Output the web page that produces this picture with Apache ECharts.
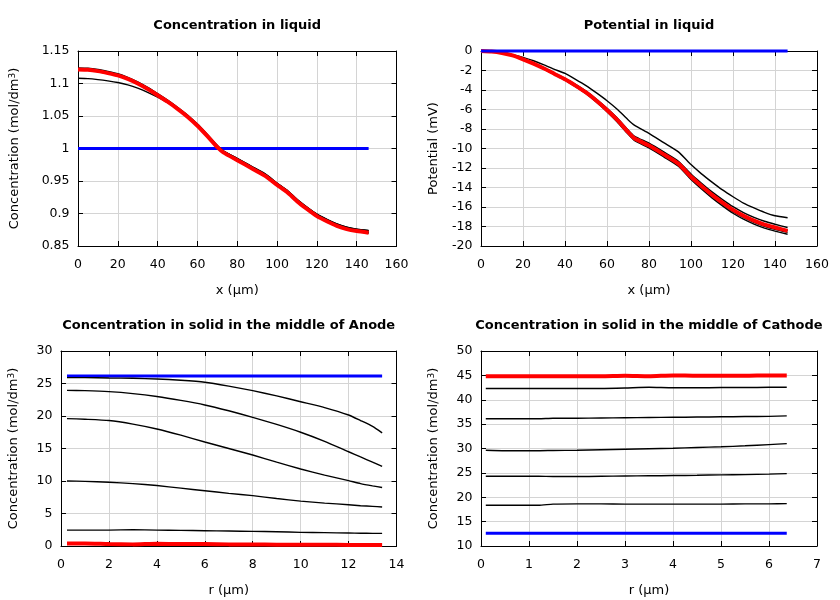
<!DOCTYPE html>
<html>
<head>
<meta charset="utf-8">
<script src="https://cdn.jsdelivr.net/npm/echarts@6/dist/echarts.min.js"></script>
<style>html,body{margin:0;padding:0;background:#fff}#c{width:840px;height:600px}</style>
</head>
<body>
<div id="c"></div>
<script>
// ---------- Liquid (x in µm) ----------
const liqX = [0,5,10,15,20,25,30,35,40,45,50,55,60,65,70,73,80,87,94,100,105,110,115,120,125,130,135,140,146];
const blueLiqX = [0, 146];
const concBlue = [1.0, 1.0];
const concT1 = [1.108,1.1075,1.106,1.104,1.1015,1.098,1.093,1.0865,1.079,1.0705,1.061,1.0495,1.036,1.0205,1.004,0.996,0.985,0.973,0.961,0.947,0.936,0.922,0.910,0.899,0.891,0.884,0.879,0.876,0.874];
const concT2 = [1.124,1.1235,1.1215,1.1185,1.115,1.1095,1.1025,1.094,1.0845,1.0745,1.0635,1.0515,1.0375,1.0215,1.0045,0.9965,0.9845,0.9725,0.9605,0.9465,0.9355,0.9215,0.9095,0.899,0.891,0.884,0.879,0.876,0.8735];
const concT3 = [1.1227,1.1222,1.1202,1.1172,1.1137,1.1082,1.1012,1.0927,1.0832,1.0732,1.0622,1.0502,1.0362,1.0202,1.0032,0.9952,0.9832,0.9712,0.9592,0.9452,0.9342,0.9202,0.9082,0.8972,0.8892,0.8822,0.8772,0.8742,0.8717];
const concT4 = [1.1218,1.1213,1.1193,1.1163,1.1128,1.1073,1.1003,1.0918,1.0823,1.0723,1.0613,1.0493,1.0353,1.0193,1.0023,0.9943,0.9823,0.9703,0.9583,0.9443,0.9333,0.9193,0.9073,0.8963,0.8883,0.8813,0.8763,0.8733,0.8708];
const concT5 = [1.1207,1.1202,1.1182,1.1152,1.1117,1.1062,1.0992,1.0907,1.0812,1.0712,1.0602,1.0482,1.0342,1.0182,1.0012,0.9932,0.9812,0.9692,0.9572,0.9432,0.9322,0.9182,0.9062,0.8952,0.8872,0.8802,0.8752,0.8722,0.8697];
const concRed = [1.1215,1.121,1.119,1.116,1.1125,1.107,1.1,1.0915,1.082,1.072,1.061,1.049,1.035,1.019,1.002,0.994,0.982,0.970,0.958,0.944,0.933,0.919,0.907,0.896,0.888,0.881,0.876,0.873,0.8705];

const potBlue = [0, 0];
const potT1 = [0,-0.03,-0.15,-0.37,-0.65,-1.0,-1.42,-1.88,-2.3,-2.9,-3.55,-4.3,-5.1,-6.0,-7.05,-7.6,-8.45,-9.4,-10.35,-11.65,-12.6,-13.45,-14.25,-14.95,-15.6,-16.1,-16.55,-16.9,-17.1];
const potT2 = [0,-0.05,-0.19,-0.44,-0.8,-1.25,-1.74,-2.27,-2.8,-3.43,-4.12,-4.95,-5.88,-6.9,-8.08,-8.72,-9.46,-10.35,-11.3,-12.62,-13.56,-14.45,-15.24,-15.97,-16.57,-17.06,-17.46,-17.77,-18.1];
const potT3 = [0,-0.05,-0.2,-0.46,-0.86,-1.32,-1.83,-2.38,-2.94,-3.6,-4.31,-5.17,-6.13,-7.2,-8.41,-9.06,-9.82,-10.73,-11.68,-13.04,-14.0,-14.9,-15.71,-16.47,-17.07,-17.57,-17.98,-18.29,-18.6];
const potT4 = [0,-0.05,-0.21,-0.47,-0.88,-1.34,-1.86,-2.42,-2.99,-3.66,-4.38,-5.25,-6.22,-7.3,-8.52,-9.18,-9.94,-10.86,-11.82,-13.18,-14.15,-15.06,-15.88,-16.64,-17.25,-17.75,-18.16,-18.47,-18.8];
const potT5 = [0,-0.05,-0.2,-0.45,-0.84,-1.29,-1.79,-2.33,-2.88,-3.53,-4.23,-5.08,-6.03,-7.08,-8.28,-8.93,-9.68,-10.58,-11.53,-12.88,-13.83,-14.73,-15.53,-16.28,-16.88,-17.38,-17.78,-18.08,-18.42];
const potRed = [0,-0.05,-0.2,-0.45,-0.85,-1.3,-1.8,-2.35,-2.9,-3.55,-4.25,-5.1,-6.05,-7.1,-8.3,-8.95,-9.7,-10.6,-11.55,-12.9,-13.85,-14.75,-15.55,-16.3,-16.9,-17.4,-17.8,-18.1,-18.45];

// ---------- Anode solid (r in µm) ----------
const anR = [0.25,1,2,3,4,5,6,7,8,9,10,11,12,12.5,13,13.4];
const anBlueR = [0.25, 13.4];
const anBlue = [26.15, 26.15];
const anT1 = [25.9,25.9,25.85,25.8,25.7,25.5,25.2,24.6,23.9,23.1,22.2,21.3,20.15,19.3,18.4,17.4];
const anT2 = [23.95,23.9,23.75,23.45,23.0,22.4,21.7,20.8,19.8,18.7,17.5,16.1,14.5,13.7,12.9,12.25];
const anT3 = [19.6,19.5,19.3,18.75,18.0,17.05,16.0,15.0,14.0,12.9,11.85,10.9,10.05,9.6,9.25,9.0];
const anT4 = [10.0,9.95,9.8,9.6,9.3,8.9,8.5,8.1,7.75,7.3,6.9,6.6,6.35,6.2,6.1,6.0];
const anT5 = [2.45,2.45,2.45,2.5,2.45,2.4,2.35,2.3,2.25,2.2,2.1,2.05,2.0,1.97,1.95,1.95];
const anRed = [0.4,0.4,0.3,0.25,0.35,0.3,0.3,0.25,0.25,0.2,0.2,0.2,0.15,0.15,0.15,0.15];

// ---------- Cathode solid (r in µm) ----------
const caR = [0.1,0.5,1,1.2,1.5,2,2.5,3,3.5,4,4.5,5,5.5,6,6.37];
const caBlueR = [0.1, 6.37];
const caBlue = [12.6, 12.6];
const caT1 = [18.35,18.35,18.35,18.35,18.6,18.65,18.65,18.6,18.6,18.6,18.6,18.6,18.65,18.65,18.7];
const caT2 = [24.3,24.3,24.3,24.3,24.25,24.25,24.3,24.35,24.4,24.45,24.5,24.6,24.65,24.75,24.85];
const caT3 = [29.65,29.55,29.55,29.55,29.6,29.65,29.75,29.85,29.95,30.05,30.2,30.35,30.55,30.8,31.0];
const caT4 = [36.1,36.1,36.1,36.1,36.2,36.2,36.25,36.3,36.35,36.4,36.45,36.5,36.55,36.6,36.7];
const caT5 = [42.3,42.3,42.3,42.3,42.3,42.3,42.3,42.4,42.55,42.45,42.45,42.5,42.5,42.55,42.55];
const caRed = [44.8,44.8,44.8,44.8,44.8,44.8,44.8,44.9,44.8,45.0,44.9,44.9,44.9,45.0,45.0];

// ---------- Texts ----------
const titles = ['Concentration in liquid','Potential in liquid','Concentration in solid in the middle of Anode','Concentration in solid in the middle of Cathode'];
const xNames = ['x (µm)','x (µm)','r (µm)','r (µm)'];
const yNames = ['Concentration (mol/dm{s|3})','Potential (mV)','Concentration (mol/dm{s|3})','Concentration (mol/dm{s|3})'];

const FONT = 'DejaVu Sans';
const grids = [
  {left:78, top:51, width:318.5, height:195},
  {left:481, top:51, width:336, height:195},
  {left:61, top:351, width:335.5, height:195},
  {left:481, top:351, width:336, height:195}
];
const xr = [[0,160,20],[0,160,20],[0,14,2],[0,7,1]];
const yr = [[0.85,1.15,0.05],[-20,0,2],[0,30,5],[10,50,5]];
const yGap = [57,41,41,41];

const xAxis = [], yAxis = [];
grids.forEach((g,i)=>{
  const base = {
    gridIndex:i, type:'value',
    axisLine:{show:true,onZero:false,lineStyle:{color:'#000',width:1}},
    axisTick:{show:true,inside:true,length:5,lineStyle:{color:'#000',width:1}},
  };
  xAxis.push(Object.assign({}, base, {
    position:'bottom', min:xr[i][0], max:xr[i][1], interval:xr[i][2],
    name:xNames[i], nameLocation:'middle', nameGap:38,
    nameTextStyle:{fontFamily:FONT,fontSize:13,color:'#000'},
    axisLabel:{fontFamily:FONT,fontSize:12.5,color:'#000',margin:12},
    splitLine:{show:true,lineStyle:{color:'#d4d4d4',width:1}}
  }));
  xAxis.push(Object.assign({}, base, {
    position:'top', min:xr[i][0], max:xr[i][1], interval:xr[i][2],
    axisLabel:{show:false}, splitLine:{show:false}
  }));
  yAxis.push(Object.assign({}, base, {
    position:'left', min:yr[i][0], max:yr[i][1], interval:yr[i][2],
    name:yNames[i], nameLocation:'middle', nameGap:yGap[i],
    nameTextStyle:{fontFamily:FONT,fontSize:13,color:'#000',
      rich:{s:{fontFamily:FONT,fontSize:9,color:'#000',verticalAlign:'top',lineHeight:9}}},
    axisLabel:{fontFamily:FONT,fontSize:12.5,color:'#000',margin:8.5},
    splitLine:{show:true,lineStyle:{color:'#d4d4d4',width:1}}
  }));
  yAxis.push(Object.assign({}, base, {
    position:'right', min:yr[i][0], max:yr[i][1], interval:yr[i][2],
    axisLabel:{show:false}, splitLine:{show:false}
  }));
});

function pairs(xs, ys){ return xs.map((x,k)=>[x, ys[k]]); }
function line(g, xs, ys, color, width){
  return {type:'line', xAxisIndex:2*g, yAxisIndex:2*g, data:pairs(xs,ys),
    showSymbol:false, symbol:'none', clip:false, animation:false, silent:true, smooth:0.2,
    lineStyle:{color:color,width:width}, itemStyle:{color:color}};
}
const BL='#000', BW=1.4, RW=4, UW=3;
const series = [
  line(0, blueLiqX, concBlue, '#0000ff', UW),
  line(0, liqX, concT1, BL, BW), line(0, liqX, concT2, BL, BW), line(0, liqX, concT3, BL, BW),
  line(0, liqX, concT4, BL, BW), line(0, liqX, concT5, BL, BW),
  line(0, liqX, concRed, '#ff0000', RW),

  line(1, liqX, potT1, BL, BW), line(1, liqX, potT2, BL, BW), line(1, liqX, potT3, BL, BW),
  line(1, liqX, potT4, BL, BW), line(1, liqX, potT5, BL, BW),
  line(1, liqX, potRed, '#ff0000', RW),
  line(1, blueLiqX, potBlue, '#0000ff', UW),

  line(2, anBlueR, anBlue, '#0000ff', UW),
  line(2, anR, anT1, BL, BW), line(2, anR, anT2, BL, BW), line(2, anR, anT3, BL, BW),
  line(2, anR, anT4, BL, BW), line(2, anR, anT5, BL, BW),
  line(2, anR, anRed, '#ff0000', RW),

  line(3, caBlueR, caBlue, '#0000ff', UW),
  line(3, caR, caT1, BL, BW), line(3, caR, caT2, BL, BW), line(3, caR, caT3, BL, BW),
  line(3, caR, caT4, BL, BW), line(3, caR, caT5, BL, BW),
  line(3, caR, caRed, '#ff0000', RW)
];

const title = titles.map((t,i)=>({
  text:t, left:grids[i].left + grids[i].width/2, top:grids[i].top - 32, textAlign:'center', padding:0,
  textStyle:{fontFamily:FONT,fontSize:13,fontWeight:'bold',color:'#000'}
}));

const chart = echarts.init(document.getElementById('c'), null, {renderer:'canvas'});
chart.setOption({backgroundColor:'#fff', animation:false, title, grid:grids, xAxis, yAxis, series});
</script>
</body>
</html>
